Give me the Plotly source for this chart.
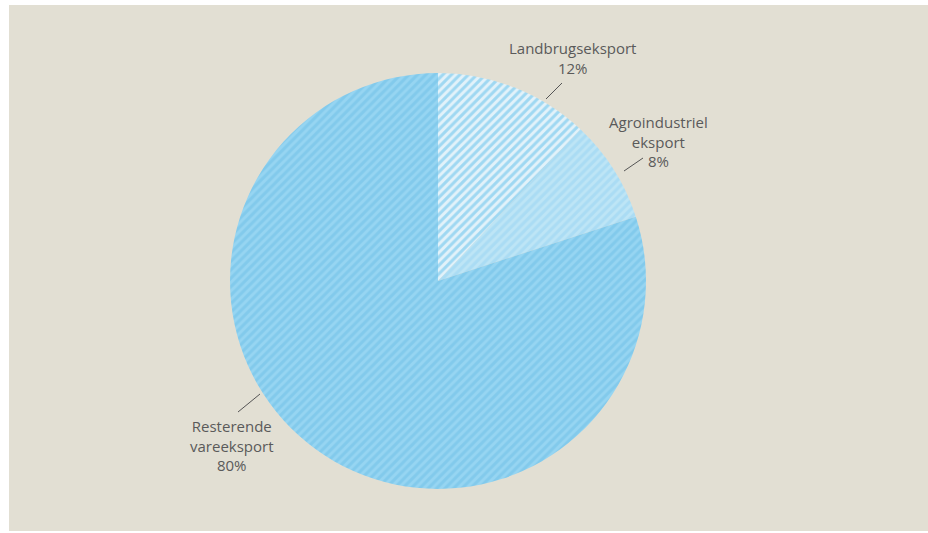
import plotly.graph_objects as go

labels = ["Landbrugseksport", "Agroindustriel eksport", "Resterende vareeksport"]
values = [12, 8, 80]
label_texts = ["Landbrugseksport<br>12%", "Agroindustriel<br>eksport<br>8%", "Resterende<br>vareeksport<br>80%"]

W, H = 928, 533
bg_colors = ["#e2f2fa", "#bde5f6", "#96d5f2"]
fg_colors = ["#9fd8f2", "#aadcf4", "#82caec"]

def px(x):
    return x / W

def py(y):
    return 1 - y / H

cx, cy, r = 438, 281, 208

fig = go.Figure(go.Pie(
    labels=labels,
    values=values,
    sort=False,
    direction="clockwise",
    rotation=0,
    textinfo="none",
    hoverinfo="label+percent",
    showlegend=False,
    marker=dict(
        colors=bg_colors,
        line=dict(width=0),
        pattern=dict(shape="/", size=6, solidity=0.5, fgcolor=fg_colors, bgcolor=bg_colors, fillmode="replace"),
    ),
    domain=dict(x=[px(cx - r), px(cx + r)], y=[py(cy + r), py(cy - r)]),
))

# label positions (pixel centres) and leader lines
label_pos = [(572, 58), (658, 142), (232, 445)]
leaders = [((546, 99), (562, 83)), ((624, 171), (643, 158)), ((238, 412), (260, 394))]

shapes = [dict(type="rect", xref="paper", yref="paper", x0=px(9), x1=1, y0=py(531), y1=py(5),
               fillcolor="#e2dfd3", line=dict(width=0), layer="below")]
for (a, b) in leaders:
    shapes.append(dict(type="line", xref="paper", yref="paper", x0=px(a[0]), y0=py(a[1]),
                       x1=px(b[0]), y1=py(b[1]), line=dict(color="#555555", width=1)))

annotations = []
for t, (x, y) in zip(label_texts, label_pos):
    annotations.append(dict(text=t, x=px(x), y=py(y), xref="paper", yref="paper", showarrow=False,
                            xanchor="center", yanchor="middle", align="center",
                            font=dict(family="Open Sans", size=15, color="#5a5a5a")))

fig.update_layout(
    width=W, height=H,
    margin=dict(l=0, r=0, t=0, b=0),
    paper_bgcolor="#ffffff",
    plot_bgcolor="#ffffff",
    shapes=shapes,
    annotations=annotations,
)

fig.write_html("out.html", config={"displayModeBar": False},
               post_script="document.body.style.margin='0';")
